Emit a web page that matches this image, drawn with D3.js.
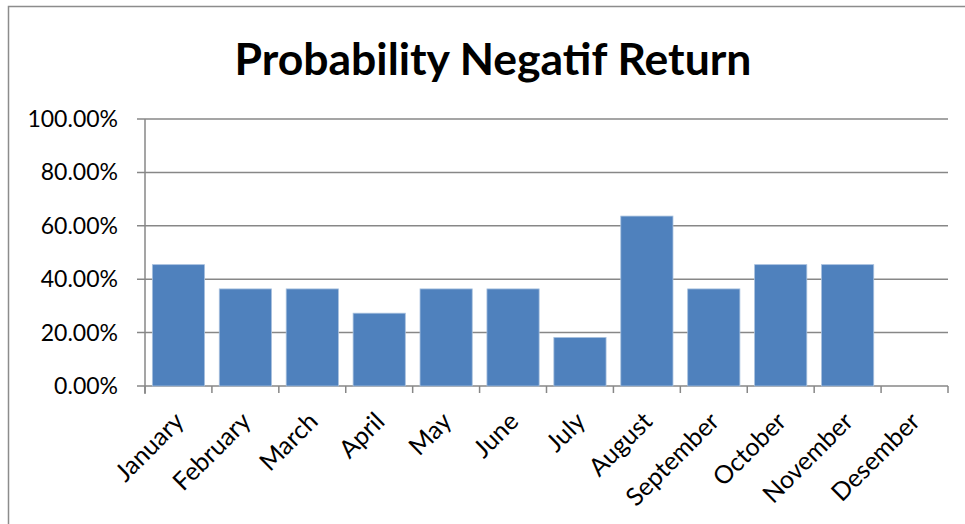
<!DOCTYPE html>
<html>
<head>
<meta charset="utf-8">
<script src="https://cdn.jsdelivr.net/npm/d3@7"></script>
<style>
    body { margin: 0; background: #fff; }
    svg { display: block; }
</style>
</head>
<body>
<div id="chart"></div>
<script>
const months = ['January', 'February', 'March', 'April', 'May', 'June',
    'July', 'August', 'September', 'October', 'November', 'Desember'];
const negativeProbability = [0.4545, 0.3636, 0.3636, 0.2727, 0.3636, 0.3636,
    0.1818, 0.6364, 0.3636, 0.4545, 0.4545, 0];
const yTicks = [0, 0.2, 0.4, 0.6, 0.8, 1.0];

drawChart('chart');

function drawChart(divId) {
    const svgWidth = 965;
    const svgHeight = 524;
    const plotLeft = 145;
    const plotRight = 948;
    const plotTop = 119;
    const plotBottom = 386;
    const fontFamily = 'Lato, "Open Sans", sans-serif';

    const svg = d3.select('#' + divId)
        .append('svg')
        .attr('width', svgWidth)
        .attr('height', svgHeight);

    // chart area border
    svg.append('rect')
        .attr('x', 8.5)
        .attr('y', 6.5)
        .attr('width', svgWidth + 10)
        .attr('height', svgHeight + 10)
        .attr('fill', 'white')
        .attr('stroke', '#8c8c8c')
        .attr('stroke-width', 1.5);

    svg.append('text')
        .attr('x', 493)
        .attr('y', 75)
        .attr('text-anchor', 'middle')
        .attr('font-family', fontFamily)
        .attr('font-weight', 'bold')
        .attr('font-size', 44.5)
        .text('Probability Negatif Return');

    const x = d3.scaleBand()
        .domain(months)
        .range([plotLeft, plotRight])
        .paddingInner(0.22)
        .paddingOuter(0.11);

    const y = d3.scaleLinear()
        .domain([0, 1])
        .range([plotBottom, plotTop]);

    // horizontal gridlines
    svg.append('g')
        .selectAll('line')
        .data(yTicks)
        .join('line')
        .attr('x1', plotLeft - 8)
        .attr('x2', plotRight)
        .attr('y1', d => y(d))
        .attr('y2', d => y(d))
        .attr('stroke', '#878787')
        .attr('stroke-width', 1.5);

    svg.append('g')
        .selectAll('text')
        .data(yTicks)
        .join('text')
        .attr('x', 118)
        .attr('y', d => y(d) + 8)
        .attr('text-anchor', 'end')
        .attr('font-family', fontFamily)
        .attr('font-size', 23)
        .attr('fill', '#000')
        .text(d => d3.format('.2%')(d));

    svg.append('g')
        .selectAll('rect')
        .data(months)
        .join('rect')
        .attr('x', d => x(d))
        .attr('y', (d, i) => y(negativeProbability[i]))
        .attr('width', x.bandwidth())
        .attr('height', (d, i) => plotBottom - y(negativeProbability[i]))
        .attr('fill', '#4f81bd')
        .attr('stroke', '#a7c0de')
        .attr('stroke-width', 0.8);

    // y axis line
    svg.append('line')
        .attr('x1', plotLeft)
        .attr('x2', plotLeft)
        .attr('y1', plotTop)
        .attr('y2', plotBottom + 8)
        .attr('stroke', '#878787')
        .attr('stroke-width', 1.5);

    // category tick marks
    svg.append('g')
        .selectAll('line')
        .data(d3.range(months.length + 1))
        .join('line')
        .attr('x1', i => plotLeft + i * (plotRight - plotLeft) / months.length)
        .attr('x2', i => plotLeft + i * (plotRight - plotLeft) / months.length)
        .attr('y1', plotBottom)
        .attr('y2', plotBottom + 7)
        .attr('stroke', '#878787')
        .attr('stroke-width', 1.5);

    svg.append('g')
        .selectAll('text')
        .data(months)
        .join('text')
        .attr('transform', d => `translate(${x(d) + x.bandwidth() / 2 + 7}, ${plotBottom + 37}) rotate(-45)`)
        .attr('text-anchor', 'end')
        .attr('font-family', fontFamily)
        .attr('font-size', 25)
        .attr('fill', '#000')
        .text(d => d);
}
</script>
</body>
</html>
